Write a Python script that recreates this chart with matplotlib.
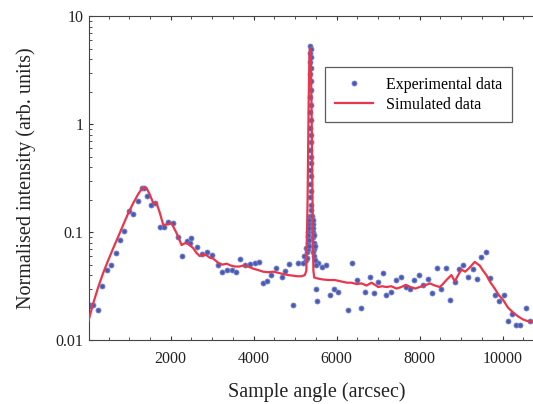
import matplotlib
matplotlib.use("Agg")
import matplotlib.pyplot as plt
from matplotlib.ticker import FixedLocator, NullFormatter, LogLocator

# simulated curve (arcsec, normalised intensity)
sim_x = [12, 133, 253, 373, 494, 614, 735, 855, 977, 1096, 1217, 1314, 1418, 1499,
         1579, 1659, 1740, 1819, 1920, 2021, 2141, 2262, 2343, 2422, 2543, 2624,
         2700, 2780, 2865, 2940, 3020, 3145, 3250, 3350, 3450, 3547, 3650, 3750,
         3868, 3980, 4109, 4230, 4350, 4470, 4591, 4700, 4832, 4950, 5050, 5154,
         5234, 5270, 5300, 5325, 5345, 5360, 5378, 5395, 5418, 5440, 5460, 5516,
         5650, 5800, 5957, 6100, 6250, 6358, 6480, 6600, 6720, 6841, 6950, 7001,
         7100, 7200, 7320, 7443, 7560, 7667, 7780, 7900, 8000, 8120, 8245, 8370,
         8487, 8560, 8648, 8768, 8848, 8930, 9008, 9100, 9209, 9330, 9450, 9530,
         9611, 9712, 9812, 9913, 10013, 10130, 10254, 10380, 10495, 10600, 10695,
         10800]
sim_y = [0.0148, 0.022, 0.031, 0.042, 0.055, 0.071, 0.091, 0.117, 0.15, 0.186,
         0.226, 0.256, 0.256, 0.222, 0.186, 0.186, 0.15, 0.117, 0.118, 0.121,
         0.098, 0.076, 0.079, 0.078, 0.071, 0.064, 0.060, 0.062, 0.061, 0.058,
         0.057, 0.052, 0.050, 0.051, 0.049, 0.048, 0.048, 0.049, 0.048, 0.046,
         0.0445, 0.043, 0.0425, 0.043, 0.042, 0.041, 0.040, 0.0395, 0.039, 0.039,
         0.040, 0.044, 0.2, 1.5, 4.5, 5.1, 4.5, 1.5, 0.2, 0.044, 0.038, 0.0374,
         0.0365, 0.036, 0.036, 0.035, 0.034, 0.034, 0.033, 0.0335, 0.032, 0.034,
         0.032, 0.031, 0.0315, 0.031, 0.0315, 0.030, 0.031, 0.0325, 0.031, 0.030,
         0.031, 0.032, 0.0335, 0.032, 0.031, 0.033, 0.036, 0.040, 0.035, 0.040,
         0.045, 0.043, 0.047, 0.053, 0.049, 0.044, 0.040, 0.034, 0.030, 0.026,
         0.0236, 0.020, 0.018, 0.0165, 0.0155, 0.015, 0.0148, 0.0147]

# experimental points
exp_x = [53, 133, 238, 350, 455, 559, 672, 776, 880, 993, 1097, 1202, 1314, 1362,
         1418, 1523, 1619, 1740, 1843, 1940, 2060, 2181, 2277, 2383, 2487, 2463,
         2624, 2745, 2865, 2986, 3145, 3241, 3347, 3467, 3564, 3667, 3788, 3908,
         4029, 4125, 4229, 4311, 4414, 4528, 4672, 4752, 4848, 4952, 5072,
         5492, 5516, 5554, 5636, 5733, 5836, 5940, 6036, 6263, 6359, 6480, 6583,
         6696, 6800, 6904, 7000, 7120, 7202, 7323, 7443, 7564, 7667, 7781, 7868,
         7989, 8085, 8205, 8311, 8422, 8528, 8631, 8728, 8848, 8952, 9049, 9169,
         9289, 9386, 9492, 9595, 9692, 9812, 9916, 10029, 10133, 10239, 10335,
         10414, 10559, 10672]
exp_y = [0.021, 0.021, 0.019, 0.0318, 0.045, 0.050, 0.064, 0.084, 0.103, 0.158,
         0.148, 0.195, 0.256, 0.256, 0.217, 0.179, 0.186, 0.111, 0.112, 0.124,
         0.121, 0.091, 0.060, 0.082, 0.088, 0.079, 0.073, 0.063, 0.065, 0.062,
         0.050, 0.0426, 0.0445, 0.045, 0.043, 0.056, 0.050, 0.051, 0.052, 0.053,
         0.034, 0.035, 0.040, 0.047, 0.0387, 0.044, 0.051, 0.021, 0.052,
         0.0296, 0.0228, 0.0515, 0.048, 0.050, 0.026, 0.030, 0.028, 0.019, 0.052,
         0.036, 0.020, 0.028, 0.0387, 0.0275, 0.0348, 0.042, 0.026, 0.028, 0.036,
         0.0387, 0.031, 0.0296, 0.036, 0.040, 0.0325, 0.0366, 0.0275, 0.047,
         0.0296, 0.047, 0.0236, 0.0348, 0.0454, 0.050, 0.0387, 0.0454, 0.0366,
         0.0586, 0.066, 0.0374, 0.026, 0.0228, 0.026, 0.0151, 0.0175, 0.0138,
         0.0138, 0.0197, 0.0151]

# points on the sharp peak
peak_x = [5365, 5372, 5368, 5378, 5370, 5375, 5366, 5380, 5372, 5368, 5376, 5370,
          5382, 5366, 5374, 5378, 5368, 5372, 5384, 5364, 5376, 5370, 5388, 5362,
          5380, 5392, 5358, 5396, 5350]
peak_y = [5.3, 5.0, 4.6, 4.2, 3.8, 3.3, 2.9, 2.5, 2.1, 1.8, 1.5, 1.3, 1.1, 0.92,
          0.8, 0.68, 0.58, 0.5, 0.44, 0.38, 0.33, 0.28, 0.24, 0.21, 0.18, 0.16,
          0.14, 0.12, 0.11]

# cluster at the base of the peak
base_x = [5180, 5220, 5250, 5270, 5285, 5300, 5310, 5320, 5330, 5340, 5300, 5315,
          5325, 5290, 5335, 5345, 5410, 5420, 5425, 5430, 5440, 5450, 5455, 5460,
          5420, 5435, 5445, 5470, 5480, 5500]
base_y = [0.052, 0.060, 0.055, 0.072, 0.065, 0.080, 0.090, 0.100, 0.120, 0.085,
          0.095, 0.070, 0.110, 0.058, 0.130, 0.075, 0.140, 0.120, 0.100, 0.090,
          0.110, 0.080, 0.095, 0.070, 0.065, 0.130, 0.060, 0.075, 0.055, 0.050]

plt.rcParams["font.family"] = ["Liberation Serif", "DejaVu Serif"]

fig = plt.figure(figsize=(5.33, 4.04), dpi=100)
ax = fig.add_axes([88.6 / 533, 64 / 404, 455.4 / 533, 323.5 / 404])

pts_x = exp_x + peak_x + base_x
pts_y = exp_y + peak_y + base_y
ax.plot(pts_x, pts_y, "o", ls="none", color="#4a5ab3", ms=3.6, mec="#7583c8",
        mew=0.6, label="Experimental data", zorder=2)
ax.plot(sim_x, sim_y, color="#e8364c", lw=1.6, label="Simulated data", zorder=3)

ax.set_yscale("log")
ax.set_ylim(0.01, 10)
ax.set_xlim(20, 11000)
ax.set_xticks([2000, 4000, 6000, 8000, 10000])
ax.xaxis.set_minor_locator(FixedLocator(range(500, 11000, 500)))
ax.yaxis.set_major_locator(FixedLocator([0.01, 0.1, 1, 10]))
ax.yaxis.set_major_formatter(plt.FixedFormatter(["0.01", "0.1", "1", "10"]))
ax.yaxis.set_minor_locator(LogLocator(base=10, subs=range(2, 10)))
ax.yaxis.set_minor_formatter(NullFormatter())

ax.tick_params(which="both", direction="in", top=True, labelsize=11.5,
               colors="#333333", labelcolor="#222222")
ax.tick_params(which="major", length=3)
ax.tick_params(which="minor", length=2)
ax.tick_params(axis="x", pad=8)
for side in ["left", "bottom", "top"]:
    ax.spines[side].set_color("#444444")
ax.spines["right"].set_visible(False)

ax.set_xlabel("Sample angle (arcsec)", fontsize=14.5, labelpad=11, color="#222222")
ax.set_ylabel("Normalised intensity (arb. units)", fontsize=14.5, labelpad=14,
              color="#222222")

leg = ax.legend(loc="upper right", bbox_to_anchor=(0.947, 0.868), fontsize=11.5,
                frameon=True, fancybox=False, edgecolor="#333333",
                handlelength=2.4, borderpad=0.6, labelspacing=0.25)
leg.get_frame().set_linewidth(0.9)

fig.savefig("out.png", dpi=100)
